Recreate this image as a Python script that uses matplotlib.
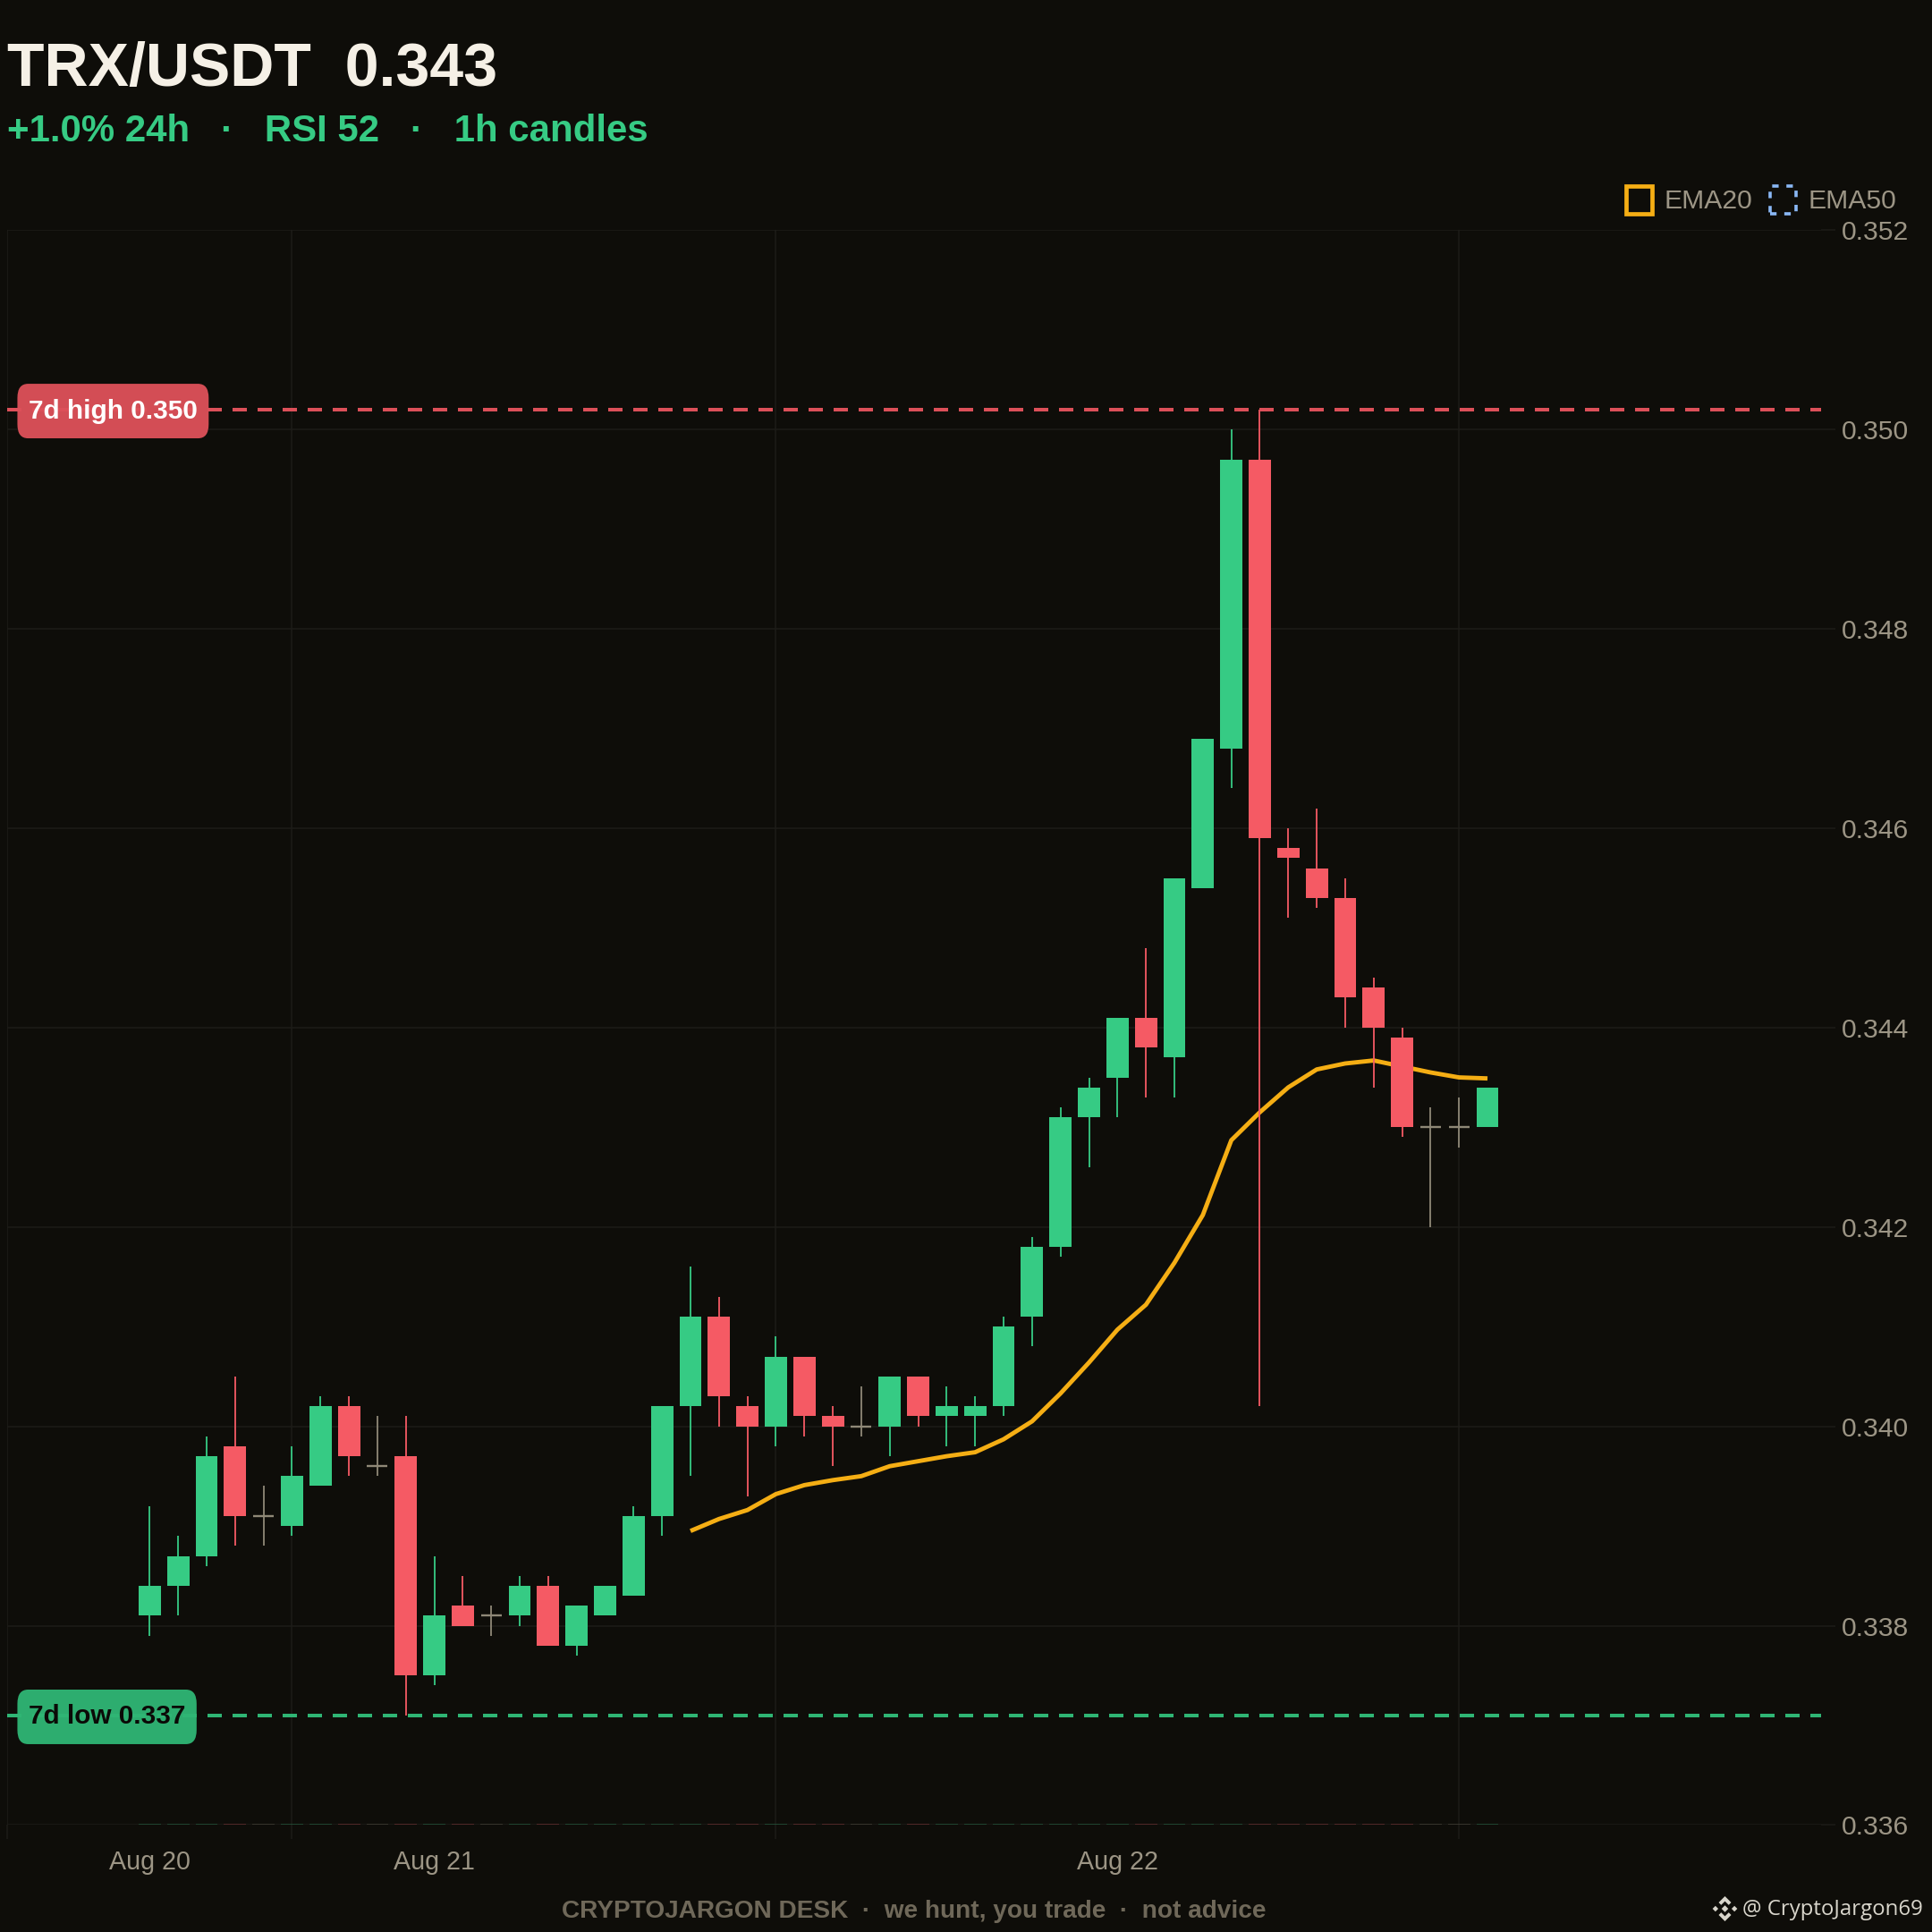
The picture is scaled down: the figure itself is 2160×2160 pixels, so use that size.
import matplotlib
matplotlib.use("Agg")
from matplotlib import pyplot as plt
from matplotlib.patches import Patch, Polygon

plt.rcParams['font.family'] = ['Liberation Sans', 'DejaVu Sans']

opens = [.3381, .3384, .3387, .3398, .3391, .3390, .3394, .3402, .3396, .3397, .3375, .3382,
         .3381, .3381, .3384, .3378, .3381, .3383, .3391, .3402, .3411, .3402, .3400, .3407,
         .3401, .3400, .3400, .3405, .3401, .3401, .3402, .3411, .3418, .3431, .3435, .3441,
         .3437, .3454, .3468, .3497, .3458, .3456, .3453, .3444, .3439, .3430, .3430, .3430]
closes = [.3384, .3387, .3397, .3391, .3391, .3395, .3402, .3397, .3396, .3375, .3381, .3380,
          .3381, .3384, .3378, .3382, .3384, .3391, .3402, .3411, .3403, .3400, .3407, .3401,
          .3400, .3400, .3405, .3401, .3402, .3402, .3410, .3418, .3431, .3434, .3441, .3438,
          .3455, .3469, .3497, .3459, .3457, .3453, .3443, .3440, .3430, .3430, .3430, .3434]
highs = [.3392, .3389, .3399, .3405, .3394, .3398, .3403, .3403, .3401, .3401, .3387, .3385,
         .3382, .3385, .3385, .3382, .3384, .3392, .3402, .3416, .3413, .3403, .3409, .3407,
         .3402, .3404, .3405, .3405, .3404, .3403, .3411, .3419, .3432, .3435, .3441, .3448,
         .3455, .3469, .3500, .3502, .3460, .3462, .3455, .3445, .3440, .3432, .3433, .3434]
lows = [.3379, .3381, .3386, .3388, .3388, .3389, .3394, .3395, .3395, .3371, .3374, .3380,
        .3379, .3380, .3378, .3377, .3381, .3383, .3389, .3395, .3400, .3393, .3398, .3399,
        .3396, .3399, .3397, .3400, .3398, .3398, .3401, .3408, .3417, .3426, .3431, .3433,
        .3433, .3454, .3464, .3402, .3451, .3452, .3440, .3434, .3429, .3420, .3428, .3430]

ema20_start = 19
ema20 = [.33895, .33907, .33916, .33932, .33941, .33946, .33950, .33960, .33965, .33970,
         .33974, .33987, .34005, .34033, .34064, .34097, .34122, .34164, .34212, .34287,
         .34315, .34340, .34358, .34364, .34367, .34361, .34355, .34350, .34349]

volume_height = 0.000014

y_ticks = [.336, .338, .340, .342, .344, .346, .348, .350, .352]
grid_x = [-5, 5, 22, 46]
label_x = [0, 10, 34]
date_labels = ["Aug 20", "Aug 21", "Aug 22"]

high_level = 0.3502
low_level = 0.3371
high_label = "7d high 0.350"
low_label = "7d low 0.337"

title = "TRX/USDT  0.343"
subtitle = "+1.0% 24h   ·   RSI 52   ·   1h candles"
footer = "CRYPTOJARGON DESK  ·  we hunt, you trade  ·  not advice"
handle = "@ CryptoJargon69"

BG = '#0e0d09'
GRID = '#1d1c18'
GREEN = '#36cb84'
RED = '#f55a64'
DOJI = '#8f8877'
MUTED = '#9c9585'
ORANGE = '#f5ae14'
BLUE = '#8ab8f5'
SIZE = 2160


def draw_candles(ax):
	x = list(range(len(opens)))
	colors = []
	for o, c in zip(opens, closes):
		colors.append(DOJI if o == c else GREEN if c > o else RED)

	ax.vlines(x, lows, highs, colors=colors, linewidth=1.3, zorder=3)

	body = [i for i in x if opens[i] != closes[i]]
	ax.bar(body, [closes[i] - opens[i] for i in body], bottom=[opens[i] for i in body],
		width=0.78, color=[colors[i] for i in body], linewidth=0, zorder=4)

	doji = [i for i in x if opens[i] == closes[i]]
	ax.hlines([opens[i] for i in doji], [i - 0.36 for i in doji], [i + 0.36 for i in doji],
		colors=DOJI, linewidth=1.7, zorder=3)

	# the volume pane is squashed to a sliver on the bottom edge
	ax.bar(x, volume_height, bottom=y_ticks[0], width=0.78, color=colors, alpha=0.25,
		linewidth=0, zorder=2, clip_on=False)


def draw_level(ax, level, text, color, text_color):
	ax.axhline(level, color=color, linewidth=2.88, linestyle=(0, (4, 3)),
		dash_capstyle='butt', zorder=5)
	ax.annotate(text, xy=(0.012, level), xycoords=ax.get_yaxis_transform(), xytext=(0, -1.2),
		textcoords='offset points', ha='left', va='center',
		fontsize=21.4, fontweight='bold', color=text_color, zorder=7,
		bbox=dict(boxstyle='round,pad=0.42,rounding_size=0.4', fc=color, ec='none', alpha=0.96,
			mutation_aspect=1.32))


def draw_logo(fig, cx, cy, r):
	color = '#d8d5cb'
	shapes = [
		[(0, 1), (.5, .5), (.3, .3), (0, .6), (-.3, .3), (-.5, .5)],
		[(0, -1), (.5, -.5), (.3, -.3), (0, -.6), (-.3, -.3), (-.5, -.5)],
		[(0, .27), (.27, 0), (0, -.27), (-.27, 0)],
		[(-.76, .23), (-.53, 0), (-.76, -.23), (-.99, 0)],
		[(.76, .23), (.53, 0), (.76, -.23), (.99, 0)],
	]
	for shape in shapes:
		xy = [((cx + a * r) / SIZE, 1 - (cy - b * r) / SIZE) for a, b in shape]
		fig.add_artist(Polygon(xy, closed=True, transform=fig.transFigure, fc=color, ec='none'))


def main():
	fig = plt.figure(figsize=(21.6, 21.6), dpi=100, facecolor=BG)
	ax = fig.add_axes([7.6 / SIZE, 1 - 2040.4 / SIZE, (2036 - 7.6) / SIZE, (2040.4 - 257.3) / SIZE], facecolor=BG)

	draw_candles(ax)
	ema_x = list(range(ema20_start, ema20_start + len(ema20)))
	ax.plot(ema_x, ema20, color=ORANGE, linewidth=3.5, solid_capstyle='butt', zorder=2.5)

	draw_level(ax, high_level, high_label, '#dc5059', '#ffffff')
	draw_level(ax, low_level, low_label, '#2fb574', '#0b0a07')

	ax.set_xlim(-5.02, 58.72)
	ax.set_ylim(y_ticks[0], y_ticks[-1])
	for spine in ax.spines.values():
		spine.set_visible(False)

	ax.yaxis.tick_right()
	ax.set_yticks(y_ticks, labels=["%.3f" % t for t in y_ticks])
	ax.set_xticks(grid_x, labels=[""] * len(grid_x))
	ax.set_xticks(label_x, labels=date_labels, minor=True)
	ax.tick_params(axis='both', which='major', length=11.5, width=1.1, color=GRID,
		labelcolor=MUTED, labelsize=21.7, pad=5)
	ax.tick_params(axis='x', which='minor', length=0, labelcolor=MUTED, labelsize=20.6, pad=20)
	ax.grid(True, which='major', color=GRID, linewidth=1.1)
	ax.set_axisbelow(True)

	fig.text(8 / SIZE, 1 - 96 / SIZE, title, fontsize=49, fontweight='bold', color='#f5f0e6', va='baseline')
	fig.text(8 / SIZE, 1 - 158 / SIZE, subtitle, fontsize=30.25, fontweight='bold', color=GREEN, va='baseline')
	fig.text(1022 / SIZE, 1 - 2137 / SIZE, footer, fontsize=20.2, fontweight='bold', color='#6f6859',
		ha='center', va='center')

	fig.text(1948 / SIZE, 1 - 2135 / SIZE, handle, fontsize=17.3, color='#d8d5cb', family='Open Sans',
		ha='left', va='center')
	draw_logo(fig, 1928.5, 2134, 14)

	handles = [
		Patch(facecolor='none', edgecolor=ORANGE, linewidth=3.4, label="EMA20"),
		Patch(facecolor='none', edgecolor=BLUE, linewidth=2.6, linestyle=(0, (2, 2.4)), label="EMA50"),
	]
	fig.legend(handles=handles, loc='center right', bbox_to_anchor=(2120 / SIZE, 1 - 223.5 / SIZE),
		ncol=2, frameon=False, fontsize=21.7, labelcolor=MUTED, borderpad=0, borderaxespad=0,
		handlelength=0.98, handleheight=1.2, handletextpad=0.43, columnspacing=0.65)

	fig.savefig('out.png', dpi=100, facecolor=BG)


if __name__ == "__main__":
	main()
